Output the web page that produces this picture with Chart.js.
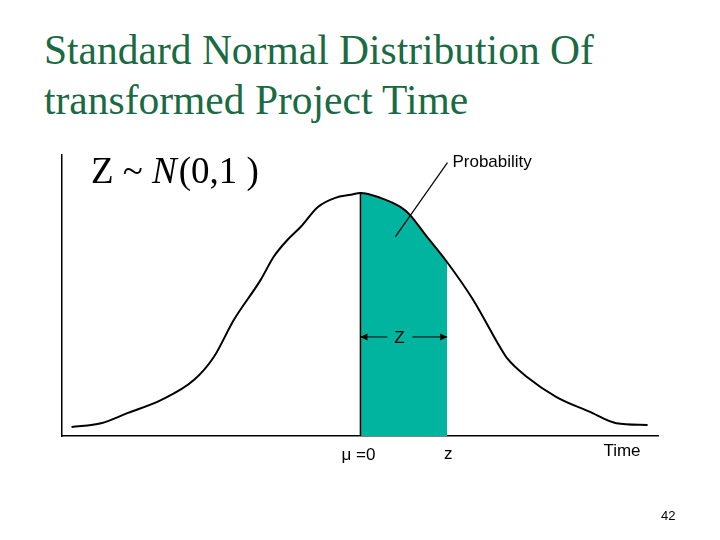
<!DOCTYPE html>
<html>
<head>
<meta charset="utf-8">
<script src="https://cdn.jsdelivr.net/npm/chart.js@4.4.1/dist/chart.umd.min.js"></script>
<style>
  body { margin: 0; background: #fff; }
  #page { position: relative; width: 720px; height: 540px; overflow: hidden; }
  #title {
    position: absolute; left: 44px; top: 25px;
    font-family: "Liberation Serif", "DejaVu Serif", serif;
    font-size: 41.5px; line-height: 50px; color: #1a6a43;
  }
  #pageNo {
    position: absolute; left: 661px; top: 508px;
    font-family: "Liberation Sans", Arial, sans-serif; font-size: 13px; color: #000;
  }
  canvas { position: absolute; left: 0; top: 0; }
</style>
</head>
<body>
<div id="page">
  <div id="title">Standard Normal Distribution Of<br>transformed Project Time</div>
  <canvas id="normalChart" width="720" height="540"></canvas>
  <div id="pageNo">42</div>
</div>
<script>
// z values and curve heights
const zValues = [-3.33, -2.99, -2.68, -2.30, -1.92, -1.69, -1.46, -1.15, -1.00, -0.84, -0.69, -0.49, -0.29, -0.11,
    0, 0.23, 0.46, 0.57, 0.75, 1.00, 1.30, 1.61, 1.69, 1.92, 2.26, 2.64, 2.95, 3.31];
const density = [0.015, 0.021, 0.038, 0.059, 0.092, 0.130, 0.191, 0.257, 0.295, 0.323, 0.344, 0.377, 0.392, 0.397,
    0.400, 0.392, 0.377, 0.364, 0.331, 0.286, 0.224, 0.146, 0.128, 0.097, 0.064, 0.040, 0.021, 0.018];
const meanZ = 0;
const zMark = 1;
const xRange = [-3.44, 3.43];
const yRange = [0, 0.4625];

const curvePoints = zValues.map((z, i) => ({x: z, y: density[i]}));
const shadedPoints = curvePoints.filter(p => p.x >= meanZ && p.x <= zMark);

const sansFont = '"Liberation Sans", Arial, sans-serif';
const serifFont = '"Liberation Serif", "Times New Roman", serif';

function arrowHead(ctx, x, y, dir) {
    ctx.beginPath();
    ctx.moveTo(x, y);
    ctx.lineTo(x - dir * 7, y - 3.5);
    ctx.lineTo(x - dir * 7, y + 3.5);
    ctx.closePath();
    ctx.fill();
}

const annotations = {
    id: 'annotations',
    afterDatasetsDraw(chart) {
        const {ctx, scales: {x, y}} = chart;
        const x0 = x.getPixelForValue(meanZ);
        const x1 = x.getPixelForValue(zMark);
        const yBase = y.getPixelForValue(0);
        ctx.save();
        ctx.strokeStyle = '#000';
        ctx.fillStyle = '#000';

        // left edge of shaded area
        ctx.lineWidth = 1.5;
        ctx.beginPath();
        ctx.moveTo(x0, yBase);
        ctx.lineTo(x0, y.getPixelForValue(density[zValues.indexOf(meanZ)]));
        ctx.stroke();

        // Z width arrows
        const yArrow = y.getPixelForValue(0.163);
        ctx.lineWidth = 1;
        ctx.beginPath();
        ctx.moveTo(x0, yArrow); ctx.lineTo(x0 + 27, yArrow);
        ctx.moveTo(x0 + 52, yArrow); ctx.lineTo(x1, yArrow);
        ctx.stroke();
        arrowHead(ctx, x0, yArrow, -1);
        arrowHead(ctx, x1, yArrow, 1);
        ctx.font = '17px ' + sansFont;
        ctx.textAlign = 'center';
        ctx.textBaseline = 'middle';
        ctx.fillText('Z', x0 + 39, yArrow + 1);

        // probability leader
        ctx.lineWidth = 1.2;
        ctx.beginPath();
        ctx.moveTo(x0 + 35, y.getPixelForValue(0.328));
        ctx.lineTo(x0 + 87, y.getPixelForValue(0.450));
        ctx.stroke();
        ctx.textAlign = 'left';
        ctx.fillText('Probability', x0 + 92, y.getPixelForValue(0.450));

        // bottom labels
        ctx.textAlign = 'center';
        ctx.fillText('\u03bc =0', x0 - 2, yBase + 19);
        ctx.fillText('z', x1 + 1, yBase + 18);
        ctx.fillText('Time', x.right - 36, yBase + 15);

        // Z ~ N(0,1 )
        ctx.textAlign = 'left';
        ctx.textBaseline = 'alphabetic';
        let tx = x.left + 29;
        const ty = y.top + 28;
        ctx.font = '37px ' + serifFont;
        ctx.fillText('Z ~ ', tx, ty);
        tx += ctx.measureText('Z ~ ').width;
        ctx.font = 'italic 37px ' + serifFont;
        ctx.fillText('N', tx, ty);
        tx += ctx.measureText('N').width + 2;
        ctx.font = '37px ' + serifFont;
        ctx.fillText('(0,1 )', tx, ty);
        ctx.restore();
    }
};

new Chart(document.getElementById('normalChart'), {
    type: 'scatter',
    data: {
        datasets: [
            {
                data: curvePoints,
                showLine: true,
                borderColor: '#000',
                borderWidth: 2,
                pointRadius: 0,
                cubicInterpolationMode: 'monotone',
                fill: false,
                order: 1
            },
            {
                data: shadedPoints,
                showLine: true,
                borderWidth: 0,
                borderColor: 'rgba(0,0,0,0)',
                backgroundColor: '#00b4a0',
                pointRadius: 0,
                cubicInterpolationMode: 'monotone',
                fill: 'origin',
                order: 2
            }
        ]
    },
    options: {
        responsive: false,
        animation: false,
        layout: {padding: {left: 54, right: 62, top: 155, bottom: 96}},
        plugins: {legend: {display: false}, tooltip: {enabled: false}},
        scales: {
            x: {
                type: 'linear', min: xRange[0], max: xRange[1],
                ticks: {display: false},
                grid: {display: false},
                border: {display: true, color: '#000', width: 1.5}
            },
            y: {
                min: yRange[0], max: yRange[1],
                ticks: {display: false},
                grid: {display: false},
                border: {display: true, color: '#000', width: 1.5}
            }
        }
    },
    plugins: [annotations]
});
</script>
</body>
</html>
